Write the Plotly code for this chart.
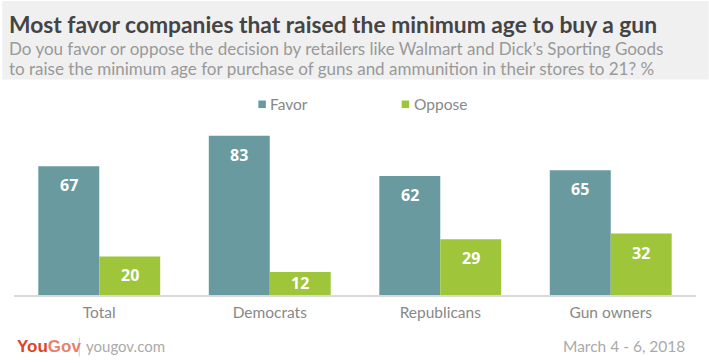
import plotly.graph_objects as go

categories = ["Total", "Democrats", "Republicans", "Gun owners"]
favor = [67, 83, 62, 65]
oppose = [20, 12, 29, 32]
series_names = ["Favor", "Oppose"]
colors = ["#689a9f", "#9fc63b"]

title = "Most favor companies that raised the minimum age to buy a gun"
subtitle1 = "Do you favor or oppose the decision by retailers like Walmart and Dick\u2019s Sporting Goods"
subtitle2 = "to raise the minimum age for purchase of guns and ammunition in their stores to 21? %"
date_text = "March 4 - 6, 2018"

W, H = 709, 363
L, R, T, B = 13.7, 12.7, 102.5, 67.7
pw = W - L - R
ph = H - T - B
FONT = "Lato"
YMAX = 100


def px(x):
    return (x - L) / pw


def py(y):
    return (H - B - y) / ph


fig = go.Figure()
for name, vals, col in zip(series_names, [favor, oppose], colors):
    fig.add_trace(go.Bar(name=name, x=categories, y=vals, marker=dict(color=col, line=dict(width=0)),
                         hoverinfo="skip"))

annotations = []
# value labels inside bars near top (centred in short bars)
for i, vals in enumerate([favor, oppose]):
    shift = -30.5 if i == 0 else 30.5
    for c, v in zip(categories, vals):
        bar_px = v * ph / YMAX
        annotations.append(dict(x=c, y=v, xref="x", yref="y", text=str(v), showarrow=False,
                                xshift=shift, yshift=-min(19, bar_px / 2 - 0.5), yanchor="middle",
                                font=dict(family="Open Sans", size=16, color="white", weight="bold")))

annotations += [
    dict(x=px(7), y=py(23), xref="paper", yref="paper", text="<b>" + title + "</b>", showarrow=False,
         xanchor="left", yanchor="middle", font=dict(family=FONT, size=22.8, color="#444444")),
    dict(x=px(7), y=py(48), xref="paper", yref="paper", text=subtitle1, showarrow=False,
         xanchor="left", yanchor="middle", font=dict(family=FONT, size=17, color="#999999")),
    dict(x=px(7), y=py(68), xref="paper", yref="paper", text=subtitle2, showarrow=False,
         xanchor="left", yanchor="middle", font=dict(family=FONT, size=17, color="#999999")),
    dict(x=px(268), y=py(103.5), xref="paper", yref="paper", text=series_names[0], showarrow=False,
         xanchor="left", yanchor="middle", font=dict(family=FONT, size=15.5, color="#888888")),
    dict(x=px(412), y=py(103.5), xref="paper", yref="paper", text=series_names[1], showarrow=False,
         xanchor="left", yanchor="middle", font=dict(family=FONT, size=15.5, color="#888888")),
    dict(x=px(15), y=py(347), xref="paper", yref="paper",
         text="<b><span style='color:#e0412a'>You</span><span style='color:#e5826f'>Gov</span></b>",
         showarrow=False, xanchor="left", yanchor="middle", font=dict(family="Liberation Sans", size=17)),
    dict(x=px(84), y=py(347), xref="paper", yref="paper", text="yougov.com", showarrow=False,
         xanchor="left", yanchor="middle", font=dict(family=FONT, size=15, color="#aaaaaa")),
    dict(x=px(687), y=py(347), xref="paper", yref="paper", text=date_text, showarrow=False,
         xanchor="right", yanchor="middle", font=dict(family=FONT, size=15.5, color="#aaaaaa")),
]

shapes = [
    dict(type="rect", xref="paper", yref="paper", x0=px(2), x1=px(709), y0=py(0), y1=py(79),
         fillcolor="#f0f0f0", line=dict(width=0), layer="below"),
    dict(type="rect", xref="paper", yref="paper", x0=px(258.3), x1=px(265.8), y0=py(100), y1=py(107.6),
         fillcolor=colors[0], line=dict(width=0)),
    dict(type="rect", xref="paper", yref="paper", x0=px(401.7), x1=px(409.2), y0=py(100), y1=py(107.6),
         fillcolor=colors[1], line=dict(width=0)),
    dict(type="line", xref="paper", yref="paper", x0=px(79), x1=px(79), y0=py(338), y1=py(357),
         line=dict(color="#cccccc", width=1)),
]

fig.update_layout(
    width=W, height=H,
    margin=dict(l=L, r=R, t=T, b=B, autoexpand=False),
    paper_bgcolor="white", plot_bgcolor="white",
    barmode="group", bargap=0.285, bargroupgap=0,
    showlegend=False,
    annotations=annotations, shapes=shapes,
    xaxis=dict(showline=True, linecolor="#d9d9d9", linewidth=2, ticks="", showgrid=False,
               ticklabelstandoff=2,
               tickfont=dict(family=FONT, size=15.5, color="#888888"), fixedrange=True),
    yaxis=dict(range=[0, YMAX], visible=False, showgrid=False, fixedrange=True),
)

fig.write_html("out.html", config={"displayModeBar": False},
               post_script="document.body.style.margin='0';document.body.style.overflow='hidden';")
